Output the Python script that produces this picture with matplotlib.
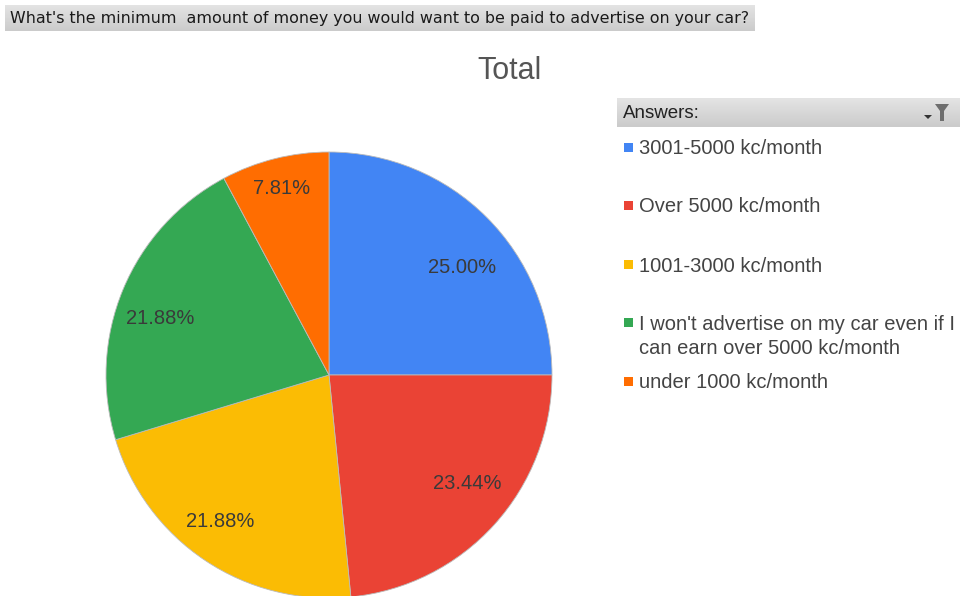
import numpy as np
import matplotlib
matplotlib.use("Agg")
import matplotlib.pyplot as plt
from matplotlib.colors import LinearSegmentedColormap
from matplotlib.patches import Rectangle, Polygon

plt.rcParams["font.family"] = ["Liberation Sans", "DejaVu Sans"]

question = "What's the minimum  amount of money you would want to be paid to advertise on your car?"
answers = ["3001-5000 kc/month", "Over 5000 kc/month", "1001-3000 kc/month",
           "I won't advertise on my car even if I\ncan earn over 5000 kc/month",
           "under 1000 kc/month"]
counts = [16, 15, 14, 14, 5]
colors = ["#4285F4", "#EA4335", "#FBBC04", "#34A853", "#FF6D01"]

# small per-slice nudges (px) for the percentage labels
label_nudge = [(7, 19), (6, -11), (-10, -2), (-4, 12), (-4, -13)]

W, H = 962, 596
fig = plt.figure(figsize=(W / 100, H / 100), dpi=100)

# overlay in pixel coordinates for header bars and legend
bg = fig.add_axes([0, 0, 1, 1])
bg.set_xlim(0, W); bg.set_ylim(H, 0); bg.axis("off")

bar_cmap = LinearSegmentedColormap.from_list("bar", ["#e4e4e4", "#cbcbcb"])


def gray_bar(x0, y0, x1, y1):
    grad = np.linspace(0, 1, 32).reshape(-1, 1)
    bg.imshow(grad, extent=(x0, x1, y1, y0), cmap=bar_cmap, aspect="auto", zorder=1)


gray_bar(5, 5, 755, 31)
bg.text(10, 18.5, question, fontsize=11.4, family="DejaVu Sans",
        color="#1a1a1a", va="center", ha="left", zorder=3)

bg.text(510, 71, "Total", fontsize=22, color="#555555", ha="center", va="center")

# legend header with filter icon
gray_bar(617, 98, 960, 127)
bg.text(623, 113, "Answers:", fontsize=13.5, color="#222222", va="center", ha="left", zorder=3)
bg.add_patch(Polygon([[935, 104], [949, 104], [944, 111], [944, 121], [940, 121], [940, 111]],
                     closed=True, fc="#6e6e6e", ec="none", zorder=3))
bg.add_patch(Polygon([[924, 115], [932, 115], [928, 119]], closed=True,
                     fc="#333333", ec="none", zorder=3))

legend_y = [147, 205, 264, 322, 381]
for c, lab, y in zip(colors, answers, legend_y):
    bg.add_patch(Rectangle((624, y - 4.5), 9, 9, fc=c, ec="none"))
    for k, line in enumerate(lab.split("\n")):
        bg.text(639, y + 2 + 24 * k, line, fontsize=14.5, color="#444444",
                va="center", ha="left")

# pie: centre (329, 375) px, radius 223 px
cx, cy, r = 329, 375, 223
ax = fig.add_axes([(cx - r) / W, (H - cy - r) / H, 2 * r / W, 2 * r / H])
wedges, texts, autotexts = ax.pie(
    counts, colors=colors, startangle=90, counterclock=False,
    autopct="%.2f%%", pctdistance=0.8, radius=1,
    wedgeprops=dict(linewidth=0.6, edgecolor="#bbbbbb"),
    textprops=dict(fontsize=14.5, color="#3a3a3a"))
for t, (dx, dy) in zip(autotexts, label_nudge):
    x, y = t.get_position()
    t.set_position((x + dx / r, y - dy / r))
ax.set_xlim(-1, 1); ax.set_ylim(-1, 1)
ax.set_aspect("equal")
ax.axis("off")

fig.savefig("out.png", dpi=100, facecolor="white")
